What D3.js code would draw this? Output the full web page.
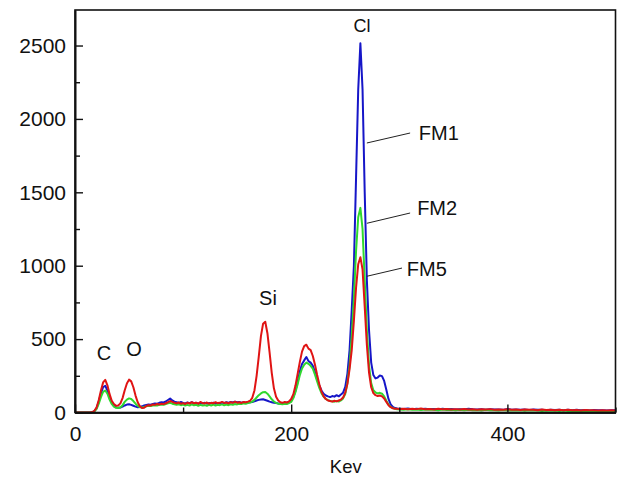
<!DOCTYPE html>
<html><head><meta charset="utf-8">
<script src="https://cdn.jsdelivr.net/npm/d3@7"></script>
<style>
html,body{margin:0;padding:0;background:#fff;}
svg{display:block;}
text{font-family:"Liberation Sans",Arial,sans-serif;fill:#111;}
</style></head>
<body>
<svg id="chart" width="617" height="477"></svg>
<script>
// ---- data ----
const kevLow = d3.range(0, 300, 2);    // channel energies 0..298
const kevHigh = d3.range(300, 501, 4); // channel energies 300..500

const fm5 = [
0,0,0,0,0,0,0,0,3,12,
35,85,150,205,222,185,125,80,58,46,
48,62,98,152,198,224,212,172,115,70,
42,30,33,44,50,47,55,52,58,54,
60,57,63,70,78,72,66,62,68,60,
64,58,66,61,70,63,67,60,72,64,
62,68,60,66,63,70,64,66,72,65,
68,62,70,66,74,67,70,65,72,70,
74,80,100,150,250,380,520,605,618,540,
410,270,165,108,82,70,66,72,68,76,
92,125,185,265,345,415,452,462,435,425,
385,325,255,192,142,110,92,82,78,74,
80,76,82,88,102,135,195,295,425,625,
850,1010,1058,975,720,460,272,172,132,118,
112,116,110,96,72,50,36,29,26,25,
24,26,22,25,23,27,22,24,21,25,
22,24,20,23,21,24,20,22,19,22,
20,23,19,21,18,22,19,20,17,21,
18,19,16,20,17,18,15,19,16,18,
15,17,14,17,15,16,14,16,13,15,14];

const fm1 = [
0,0,0,0,0,0,0,0,2,10,
30,75,130,172,182,150,100,65,45,35,
32,34,40,48,54,56,52,46,40,36,
38,42,48,52,55,53,58,62,60,66,
70,68,75,85,95,82,74,70,66,72,
65,62,68,64,70,62,66,60,64,61,
66,60,64,62,67,60,65,62,68,64,
70,66,72,68,74,70,72,66,70,65,
68,70,72,76,82,86,88,90,85,80,
74,70,66,64,62,60,62,65,68,72,
80,105,150,210,280,330,355,378,350,340,
318,275,228,185,150,128,116,110,105,112,
108,118,110,122,135,175,265,425,700,1000,
1600,2200,2515,2200,1500,900,560,340,255,232,
238,252,248,215,155,92,56,38,30,27,
26,24,27,23,25,22,26,23,24,21,
25,22,24,20,23,21,26,22,20,23,
19,22,20,21,18,24,19,21,18,20,
17,20,18,19,16,19,17,18,15,19,
16,18,15,17,14,17,15,16,14,16,15];

const fm2 = [
0,0,0,0,0,0,0,0,2,8,
25,60,105,140,150,128,88,58,40,32,
30,36,50,72,88,96,92,78,60,45,
36,34,38,42,46,44,48,50,47,52,
55,52,58,62,66,60,56,52,56,50,
54,48,52,47,55,49,53,46,52,48,
50,46,52,48,54,47,52,50,55,49,
54,50,56,52,58,55,60,58,62,60,
64,68,74,86,102,118,130,138,140,128,
110,90,75,66,60,58,56,60,58,64,
72,98,140,195,255,300,325,340,332,318,
298,258,212,168,132,108,92,84,78,76,
74,78,75,82,96,125,200,320,520,780,
1100,1330,1394,1250,900,560,320,200,152,136,
130,134,128,110,80,55,38,30,25,22,
21,19,22,18,20,17,21,18,19,16,
20,17,19,15,18,16,19,15,17,14,
18,15,16,13,17,14,16,13,15,12,
15,13,14,11,14,12,13,11,13,10,
12,11,12,10,12,10,11,9,11,10,10];

const seriesNames = ["FM1", "FM2", "FM5"];
const seriesValues = [fm1, fm2, fm5];
const seriesColors = ["#1616c8", "#2fd82f", "#e01414"];

const xTicksMajor = [0, 200, 400];
const xTicksMinor = [100, 300, 500];
const yTicksMajor = [0, 500, 1000, 1500, 2000, 2500];
const yTicksMinor = [250, 750, 1250, 1750, 2250];

// annotation anchors in data units
const peakLabels = [
  {t: "C",  kev: 26.8,  v: 360,  size: 20},
  {t: "O",  kev: 54.6,  v: 385,  size: 20},
  {t: "Si", kev: 178.5, v: 732,  size: 20},
  {t: "Cl", kev: 265.5, v: 2592, size: 18}
];
const seriesLabels = [
  {t: "FM1", k0: 270, v0: 1836, k1: 310, v1: 1904, tk: 318, tv: 1856},
  {t: "FM2", k0: 270, v0: 1289, k1: 310, v1: 1359, tk: 316.5, tv: 1343},
  {t: "FM5", k0: 270, v0: 928,  k1: 302.5, v1: 984, tk: 307, tv: 930}
];

// ---- layout ----
const svg = d3.select("#chart");
const m = {left: 75, top: 10, right: 1.5, bottom: 64.5};
const W = 617 - m.left - m.right, H = 477 - m.top - m.bottom;
const x = d3.scaleLinear().domain([0, 500]).range([0, W]);
const y = d3.scaleLinear().domain([0, 2742]).range([H, 0]);
const g = svg.append("g").attr("transform", `translate(${m.left},${m.top})`);

const kev = kevLow.concat(kevHigh);
const line = d3.line().x((d, i) => x(kev[i])).y(d => y(d));

seriesValues.forEach((vals, si) => {
  g.append("path").datum(vals)
    .attr("fill", "none")
    .attr("stroke", seriesColors[si])
    .attr("stroke-width", 2)
    .attr("stroke-linejoin", "round")
    .attr("d", line);
});

// frame
g.append("rect").attr("x", 0).attr("y", 0).attr("width", W).attr("height", H)
  .attr("fill", "none").attr("stroke", "#111").attr("stroke-width", 1.6);

// axes
const yAx = g.append("g").call(d3.axisLeft(y).tickValues(yTicksMajor).tickSizeInner(-8).tickSizeOuter(0).tickPadding(9).tickFormat(d3.format("d")));
const yAxMin = g.append("g").call(d3.axisLeft(y).tickValues(yTicksMinor).tickSizeInner(-5).tickSizeOuter(0).tickFormat(""));
const xAx = g.append("g").attr("transform", `translate(0,${H})`).call(d3.axisBottom(x).tickValues(xTicksMajor).tickSizeInner(-8).tickSizeOuter(0).tickPadding(14).tickFormat(d3.format("d")));
const xAxMin = g.append("g").attr("transform", `translate(0,${H})`).call(d3.axisBottom(x).tickValues(xTicksMinor).tickSizeInner(-5).tickSizeOuter(0).tickFormat(""));
[yAx, yAxMin, xAx, xAxMin].forEach(a => {
  a.select(".domain").attr("stroke", "#111").attr("stroke-width", 1.6);
  a.selectAll(".tick line").attr("stroke", "#111").attr("stroke-width", 1.4);
  a.selectAll("text").attr("font-size", 21).attr("font-family", "Liberation Sans, Arial, sans-serif").attr("fill", "#111");
});

// x axis title
svg.append("text").attr("x", m.left + W / 2 + 0.5).attr("y", 473)
  .attr("text-anchor", "middle").attr("font-size", 18.5).text("Kev");

// peak labels
peakLabels.forEach(p => {
  g.append("text").attr("x", x(p.kev)).attr("y", y(p.v))
    .attr("text-anchor", "middle").attr("font-size", p.size).text(p.t);
});

// series labels with leader lines
seriesLabels.forEach(s => {
  g.append("line").attr("x1", x(s.k0)).attr("y1", y(s.v0)).attr("x2", x(s.k1)).attr("y2", y(s.v1))
    .attr("stroke", "#222").attr("stroke-width", 1);
  g.append("text").attr("x", x(s.tk)).attr("y", y(s.tv))
    .attr("font-size", 20).text(s.t);
});
</script>
</body></html>
